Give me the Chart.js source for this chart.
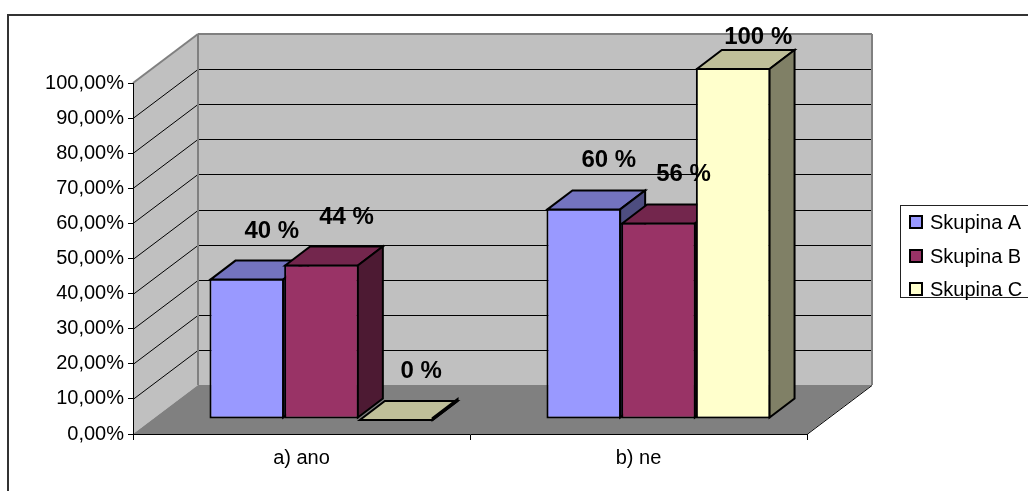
<!DOCTYPE html>
<html>
<head>
<meta charset="utf-8">
<script src="https://cdn.jsdelivr.net/npm/chart.js@4.4.1/dist/chart.umd.min.js"></script>
<style>
  html, body { margin: 0; padding: 0; background: #fff; overflow: hidden; }
  #wrap { width: 1028px; height: 491px; position: relative; }
</style>
</head>
<body>
<div id="wrap"><canvas id="chart" width="1028" height="491"></canvas></div>
<script>
// ---- data ----
const categories = ['a) ano', 'b) ne'];
const seriesNames = ['Skupina A', 'Skupina B', 'Skupina C'];
const skupinaA = [40, 60];
const skupinaB = [44, 56];
const skupinaC = [0, 100];
const yTickLabels = ['0,00%', '10,00%', '20,00%', '30,00%', '40,00%', '50,00%',
                     '60,00%', '70,00%', '80,00%', '90,00%', '100,00%'];

// ---- look ----
const FONT = '"Liberation Sans", Arial, Helvetica, sans-serif';
const seriesColors = ['#9999FF', '#993366', '#FFFFCC'];
const WALL = { dx: 65, dy: -49 };        // depth of the walls / floor
const BAR_SHIFT = { dx: 20, dy: -15 };   // columns stand part-way into the floor
const BAR_DEPTH = { dx: 25, dy: -19 };   // depth of each column

function shade(hex, f) {
  const n = parseInt(hex.slice(1), 16);
  const r = Math.round(((n >> 16) & 255) * f);
  const g = Math.round(((n >> 8) & 255) * f);
  const b = Math.round((n & 255) * f);
  return `rgb(${r},${g},${b})`;
}

function poly(ctx, pts) {
  ctx.beginPath();
  ctx.moveTo(pts[0][0], pts[0][1]);
  for (let i = 1; i < pts.length; i++) ctx.lineTo(pts[i][0], pts[i][1]);
  ctx.closePath();
}

function seg(ctx, x1, y1, x2, y2) {
  ctx.beginPath();
  ctx.moveTo(x1, y1);
  ctx.lineTo(x2, y2);
  ctx.stroke();
}

// walls, floor, frame, column faces, value labels and legend
const scene3d = {
  id: 'scene3d',
  beforeDraw(chart) {
    const { ctx, chartArea: a, scales: { y } } = chart;
    const L = a.left, R = a.right, T = a.top, B = a.bottom;
    const bx = WALL.dx, by = WALL.dy;
    ctx.save();
    ctx.fillStyle = '#fff';
    ctx.fillRect(0, 0, chart.width, chart.height);

    // outer frame
    ctx.strokeStyle = '#333';
    ctx.lineWidth = 2;
    ctx.strokeRect(8, 15, chart.width + 40, chart.height + 40);

    // side wall
    ctx.fillStyle = '#c0c0c0';
    poly(ctx, [[L, T], [L + bx, T + by], [L + bx, B + by], [L, B]]);
    ctx.fill();
    // back wall
    ctx.fillRect(L + bx, T + by, R - L, B - T);
    // floor
    ctx.fillStyle = '#808080';
    poly(ctx, [[L, B], [L + bx, B + by], [R + bx, B + by], [R, B]]);
    ctx.fill();

    // gridlines on both walls
    ctx.strokeStyle = '#000';
    ctx.lineWidth = 1;
    y.ticks.forEach(t => {
      if (t.value <= y.min || t.value >= y.max) return;
      const py = Math.round(y.getPixelForValue(t.value)) + 0.5;
      seg(ctx, L, py, L + bx, py + by);
      seg(ctx, L + bx, py + by, R + bx, py + by);
    });

    // wall edges
    ctx.strokeStyle = '#808080';
    ctx.lineWidth = 2;
    seg(ctx, L, T, L + bx, T + by);
    seg(ctx, L + bx, T + by, R + bx, T + by);
    seg(ctx, R + bx, T + by, R + bx, B + by);
    seg(ctx, L + bx, T + by, L + bx, B + by);

    // floor right edge
    ctx.strokeStyle = '#000';
    ctx.lineWidth = 1;
    seg(ctx, R, B + 0.5, R + bx, B + by + 0.5);
    ctx.restore();
  },
  // columns are painted below, left to right, so that each front face
  // hides the side face of its left neighbour
  beforeDatasetDraw() {
    return false;
  },
  afterDatasetsDraw(chart) {
    const ctx = chart.ctx;
    const dx = BAR_DEPTH.dx, dy = BAR_DEPTH.dy;
    ctx.save();
    ctx.translate(BAR_SHIFT.dx, BAR_SHIFT.dy);
    const nCat = chart.data.labels.length;
    for (let j = 0; j < nCat; j++) {
      chart.data.datasets.forEach((ds, i) => {
        const el = chart.getDatasetMeta(i).data[j];
        el.draw(ctx, chart.chartArea);
        const p = el.getProps(['x', 'y', 'base', 'width'], true);
        const l = p.x - p.width / 2 + 1, r = p.x + p.width / 2 - 1;
        const top = Math.min(p.y, p.base) + 1, bot = Math.max(p.y, p.base) - 1;
        ctx.lineWidth = 2;
        ctx.lineJoin = 'miter';
        ctx.strokeStyle = '#000';
        // top face
        ctx.fillStyle = shade(ds.backgroundColor, 0.75);
        poly(ctx, [[l, top], [l + dx, top + dy], [r + dx, top + dy], [r, top]]);
        ctx.fill();
        ctx.stroke();
        // right face
        ctx.fillStyle = shade(ds.backgroundColor, 0.5);
        poly(ctx, [[r, top], [r + dx, top + dy], [r + dx, bot + dy], [r, bot]]);
        ctx.fill();
        ctx.stroke();
      });
    }
    ctx.restore();

    // value labels
    const minBase = chart.chartArea.top + WALL.dy + 10;
    ctx.save();
    ctx.font = 'bold 24px ' + FONT;
    ctx.fillStyle = '#000';
    ctx.textAlign = 'center';
    ctx.textBaseline = 'alphabetic';
    chart.data.datasets.forEach((ds, i) => {
      chart.getDatasetMeta(i).data.forEach((el, j) => {
        const cx = el.x + BAR_SHIFT.dx + BAR_DEPTH.dx;
        const by = Math.max(el.y + BAR_SHIFT.dy + BAR_DEPTH.dy - 22, minBase);
        ctx.fillText(ds.data[j] + ' %', cx, by);
      });
    });
    ctx.restore();
  },
  afterDraw(chart) {
    const ctx = chart.ctx;
    ctx.save();
    const bx = 900, bt = 205, bh = 92;
    ctx.fillStyle = '#fff';
    ctx.fillRect(bx, bt, 200, bh);
    ctx.strokeStyle = '#222';
    ctx.lineWidth = 1;
    ctx.strokeRect(bx + 0.5, bt + 0.5, 200, bh);
    ctx.font = '20px ' + FONT;
    ctx.textBaseline = 'middle';
    ctx.textAlign = 'left';
    chart.data.datasets.forEach((ds, i) => {
      const cy = Math.round(222 + i * 33.5);
      ctx.fillStyle = ds.backgroundColor;
      ctx.fillRect(910, cy - 6, 12, 12);
      ctx.strokeStyle = '#000';
      ctx.lineWidth = 2;
      ctx.strokeRect(910, cy - 6, 12, 12);
      ctx.fillStyle = '#000';
      ctx.fillText(ds.label, 930, cy + 1);
    });
    ctx.restore();
  }
};

const seriesValues = [skupinaA, skupinaB, skupinaC];
const datasets = seriesNames.map((name, i) => ({
  label: name,
  data: seriesValues[i],
  backgroundColor: seriesColors[i],
  borderColor: '#000',
  borderWidth: 2,
  borderSkipped: false,
  categoryPercentage: 0.665,
  barPercentage: 1.0
}));

new Chart(document.getElementById('chart'), {
  type: 'bar',
  data: { labels: categories, datasets },
  plugins: [scene3d],
  options: {
    responsive: false,
    animation: false,
    devicePixelRatio: 1,
    layout: { padding: { left: 0, top: 83, right: 221, bottom: 0 } },
    plugins: {
      legend: { display: false },
      tooltip: { enabled: false }
    },
    scales: {
      x: {
        afterFit: s => { s.height = 57; },
        grid: { display: true, drawOnChartArea: false, drawTicks: true, tickLength: 6, color: '#000', offset: true },
        border: { display: true, color: '#000', width: 1 },
        ticks: { color: '#000', font: { family: FONT, size: 20 }, padding: 6 }
      },
      y: {
        min: 0,
        max: 100,
        afterFit: s => { s.width = 133; },
        afterBuildTicks: s => { s.ticks = yTickLabels.map((_, i) => ({ value: i * 10 })); },
        grid: { display: true, drawOnChartArea: false, drawTicks: true, tickLength: 5, color: '#000' },
        border: { display: true, color: '#000', width: 1 },
        ticks: {
          color: '#000',
          font: { family: FONT, size: 20 },
          padding: 4,
          callback: (v, i) => yTickLabels[i]
        }
      }
    }
  }
});
</script>
</body>
</html>
